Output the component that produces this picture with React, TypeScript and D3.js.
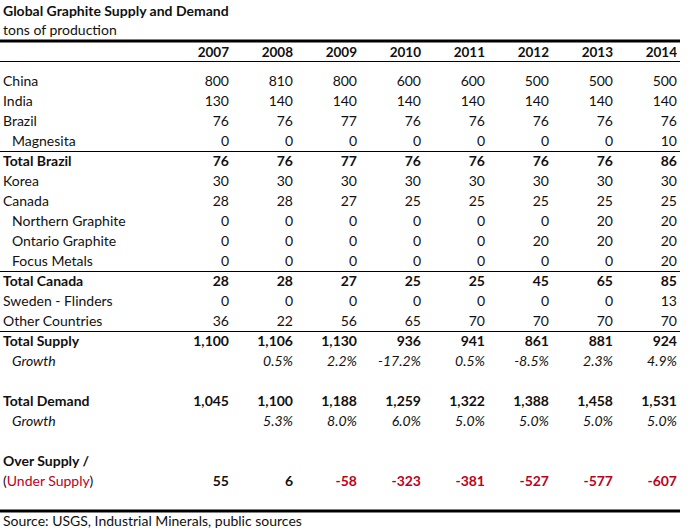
import React from "react";
import * as d3 from "d3";

const years = ["2007", "2008", "2009", "2010", "2011", "2012", "2013", "2014"];

type Row = { label: string; values: string[]; style: "normal" | "indent" | "bold" | "growth" | "blank" | "over" | "under" };

const china = ["800", "810", "800", "600", "600", "500", "500", "500"];
const india = ["130", "140", "140", "140", "140", "140", "140", "140"];
const brazil = ["76", "76", "77", "76", "76", "76", "76", "76"];
const magnesita = ["0", "0", "0", "0", "0", "0", "0", "10"];
const totalBrazil = ["76", "76", "77", "76", "76", "76", "76", "86"];
const korea = ["30", "30", "30", "30", "30", "30", "30", "30"];
const canada = ["28", "28", "27", "25", "25", "25", "25", "25"];
const northernGraphite = ["0", "0", "0", "0", "0", "0", "20", "20"];
const ontarioGraphite = ["0", "0", "0", "0", "0", "20", "20", "20"];
const focusMetals = ["0", "0", "0", "0", "0", "0", "0", "20"];
const totalCanada = ["28", "28", "27", "25", "25", "45", "65", "85"];
const swedenFlinders = ["0", "0", "0", "0", "0", "0", "0", "13"];
const otherCountries = ["36", "22", "56", "65", "70", "70", "70", "70"];
const totalSupply = ["1,100", "1,106", "1,130", "936", "941", "861", "881", "924"];
const supplyGrowth = ["", "0.5%", "2.2%", "-17.2%", "0.5%", "-8.5%", "2.3%", "4.9%"];
const totalDemand = ["1,045", "1,100", "1,188", "1,259", "1,322", "1,388", "1,458", "1,531"];
const demandGrowth = ["", "5.3%", "8.0%", "6.0%", "5.0%", "5.0%", "5.0%", "5.0%"];
const overSupply = ["55", "6", "-58", "-323", "-381", "-527", "-577", "-607"];

const rows: Row[] = [
  { label: "China", values: china, style: "normal" },
  { label: "India", values: india, style: "normal" },
  { label: "Brazil", values: brazil, style: "normal" },
  { label: "Magnesita", values: magnesita, style: "indent" },
  { label: "Total Brazil", values: totalBrazil, style: "bold" },
  { label: "Korea", values: korea, style: "normal" },
  { label: "Canada", values: canada, style: "normal" },
  { label: "Northern Graphite", values: northernGraphite, style: "indent" },
  { label: "Ontario Graphite", values: ontarioGraphite, style: "indent" },
  { label: "Focus Metals", values: focusMetals, style: "indent" },
  { label: "Total Canada", values: totalCanada, style: "bold" },
  { label: "Sweden - Flinders", values: swedenFlinders, style: "normal" },
  { label: "Other Countries", values: otherCountries, style: "normal" },
  { label: "Total Supply", values: totalSupply, style: "bold" },
  { label: "Growth", values: supplyGrowth, style: "growth" },
  { label: "", values: [], style: "blank" },
  { label: "Total Demand", values: totalDemand, style: "bold" },
  { label: "Growth", values: demandGrowth, style: "growth" },
  { label: "", values: [], style: "blank" },
  { label: "Over Supply /", values: [], style: "bold" },
  { label: "Under Supply", values: overSupply, style: "under" },
];

// rows after which a thin rule is drawn
const rulesAfter = ["Magnesita", "Focus Metals", "Other Countries"];

const RED = "#c0001a";
const FONT = "Lato, 'Open Sans', sans-serif";

export default function App() {
  const W = 693;
  const H = 532;
  const x = d3.scaleLinear().domain([0, 7]).range([229, 677]);
  const y = d3.scaleLinear().domain([0, rows.length - 1]).range([86, 86 + 20 * (rows.length - 1)]);

  return (
    <svg width={W} height={H} style={{ position: "absolute", left: 0, top: 0, background: "#fff" }} fontFamily={FONT}>
      <rect x={0} y={0} width={W} height={H} fill="#fff" />
      <text x={3} y={16} fontSize={14} fontWeight="bold" fill="#111">Global Graphite Supply and Demand</text>
      <text x={3} y={35} fontSize={14} fill="#111">tons of production</text>
      <line x1={0} x2={680} y1={41} y2={41} stroke="#000" strokeWidth={3} />
      {years.map((yr, i) => (
        <text key={yr} x={x(i)} y={57} fontSize={13.5} fontWeight="bold" textAnchor="end" fill="#111">{yr}</text>
      ))}
      <line x1={0} x2={680} y1={61.5} y2={61.5} stroke="#000" strokeWidth={1} />
      {rows.map((r, ri) => {
        const yy = y(ri);
        const bold = r.style === "bold" || r.style === "under";
        const italic = r.style === "growth";
        const indent = r.style === "indent" || r.style === "growth";
        return (
          <g key={ri}>
            {r.style === "under" ? (
              <text x={3} y={yy} fontSize={14} fill="#111">
                (<tspan fill={RED}>Under Supply</tspan>)
              </text>
            ) : (
              <text x={indent ? 12 : 3} y={yy} fontSize={14} fontWeight={bold ? "bold" : "normal"} fontStyle={italic ? "italic" : "normal"} fill="#111">{r.label}</text>
            )}
            {r.values.map((v, ci) => (
              <text
                key={ci}
                x={x(ci)}
                y={yy}
                fontSize={14}
                textAnchor="end"
                fontWeight={bold ? "bold" : "normal"}
                fontStyle={italic ? "italic" : "normal"}
                fill={r.style === "under" && v.startsWith("-") ? RED : "#111"}
              >{v}</text>
            ))}
            {rulesAfter.includes(r.label) && (
              <line x1={0} x2={680} y1={yy + 5.5} y2={yy + 5.5} stroke="#000" strokeWidth={1} />
            )}
          </g>
        );
      })}
      <line x1={0} x2={680} y1={511} y2={511} stroke="#000" strokeWidth={3} />
      <text x={3} y={526} fontSize={14} fill="#111">Source: USGS, Industrial Minerals, public sources</text>
    </svg>
  );
}
